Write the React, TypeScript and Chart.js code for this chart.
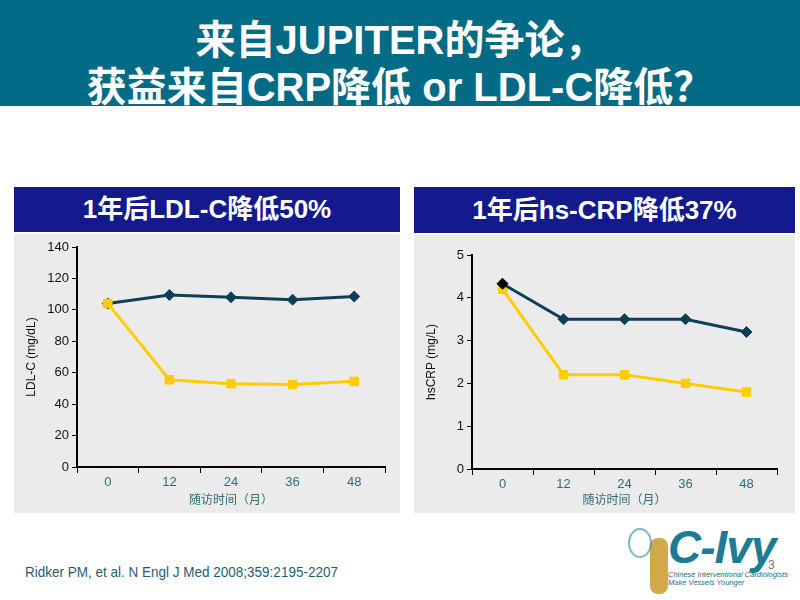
import React, { useEffect, useRef } from "react";
import { Chart, registerables } from "chart.js";

Chart.register(...registerables);

const months = ["0", "12", "24", "36", "48"];
const ldlPlacebo = [104, 109.5, 108, 106.5, 108.5];
const ldlRosuva = [104, 55.5, 53, 52.5, 54.5];
const crpPlacebo = [4.33, 3.5, 3.5, 3.5, 3.2];
const crpRosuva = [4.2, 2.2, 2.2, 2.0, 1.8];
const ldlRange = [0, 140, 20];
const crpRange = [0, 5, 1];

const NAVY = "#0f3f58";
const YELLOW = "#ffcc00";
const TEAL_TEXT = "#2f6b7c";
const SANS = '"Liberation Sans", Arial, "Noto Sans CJK SC", sans-serif';

type PanelProps = {
  w: number;
  h: number;
  yWidth: number;
  xHeight: number;
  pad: { top: number; right: number };
  range: number[];
  yTitle: string;
  datasets: any[];
};

function LineChart(p: PanelProps) {
  const ref = useRef<HTMLCanvasElement | null>(null);
  useEffect(() => {
    if (!ref.current) return;
    const chart = new Chart(ref.current, {
      type: "line",
      data: { labels: months, datasets: p.datasets },
      options: {
        animation: false,
        responsive: false,
        devicePixelRatio: 1,
        layout: { padding: { top: p.pad.top, right: p.pad.right, left: 0, bottom: 0 } },
        plugins: { legend: { display: false }, tooltip: { enabled: false } },
        scales: {
          x: {
            type: "category",
            offset: true,
            afterFit: (s: any) => {
              s.height = p.xHeight;
            },
            grid: {
              offset: true,
              drawOnChartArea: false,
              drawTicks: true,
              tickLength: 6,
              color: "#000",
              lineWidth: 1,
            },
            border: { display: true, color: "#000", width: 2 },
            ticks: {
              color: TEAL_TEXT,
              font: { family: SANS, size: 13 },
              padding: 2,
              maxRotation: 0,
            },
            title: {
              display: true,
              text: "随访时间（月）",
              color: TEAL_TEXT,
              font: { family: '"Noto Sans CJK SC", sans-serif', size: 12 },
              padding: { top: 0, bottom: 6 },
            },
          },
          y: {
            min: p.range[0],
            max: p.range[1],
            afterFit: (s: any) => {
              s.width = p.yWidth;
            },
            grid: {
              drawOnChartArea: false,
              drawTicks: true,
              tickLength: 5,
              color: "#000",
              lineWidth: 1,
            },
            border: { display: true, color: "#000", width: 2 },
            ticks: {
              stepSize: p.range[2],
              color: "#111",
              font: { family: SANS, size: 13 },
              padding: 3,
            },
            title: {
              display: true,
              text: p.yTitle,
              color: "#111",
              font: { family: SANS, size: 12 },
              padding: { top: 10, bottom: 0 },
            },
          },
        },
      },
    });
    return () => chart.destroy();
  }, []);
  return <canvas ref={ref} width={p.w} height={p.h} style={{ width: p.w, height: p.h, display: "block" }} />;
}

function navySet(data: number[], firstColor: string) {
  return {
    data,
    borderColor: NAVY,
    borderWidth: 3,
    pointStyle: "rectRot",
    pointRadius: 5.5,
    pointBackgroundColor: data.map((_, i) => (i === 0 ? firstColor : NAVY)),
    pointBorderColor: data.map((_, i) => (i === 0 ? firstColor : NAVY)),
    pointBorderWidth: 1,
    tension: 0,
  };
}

function yellowSet(data: number[]) {
  return {
    data,
    borderColor: YELLOW,
    borderWidth: 3,
    pointStyle: "rect",
    pointRadius: 6,
    pointBackgroundColor: YELLOW,
    pointBorderColor: YELLOW,
    pointBorderWidth: 1,
    tension: 0,
  };
}

const abs = (x: number, y: number, w: number, h: number): React.CSSProperties => ({
  position: "absolute",
  left: x,
  top: y,
  width: w,
  height: h,
});

export default function App() {
  return (
    <div style={{ position: "absolute", left: 0, top: 0, width: 800, height: 600, background: "#fff", overflow: "hidden", fontFamily: SANS }}>
      {/* banner */}
      <div style={{ ...abs(0, 0, 800, 106), background: "#046b86" }} />
      <div
        style={{
          ...abs(0, 18, 800, 90),
          color: "#fff",
          fontWeight: "bold",
          fontSize: 40,
          lineHeight: "44px",
          textAlign: "center",
          fontFamily: SANS,
          whiteSpace: "nowrap",
        }}
      >
        <div>来自JUPITER的争论，</div>
        <div>
          获益来自CRP降低 or LDL-C降低<span style={{ fontFamily: '"Noto Sans CJK SC", sans-serif' }}>？</span>
        </div>
      </div>

      {/* left panel */}
      <div
        style={{
          ...abs(14, 187, 386, 45),
          background: "#141a8c",
          color: "#fff",
          fontWeight: "bold",
          fontSize: 26,
          lineHeight: "45px",
          textAlign: "center",
        }}
      >
        1年后LDL-C降低50%
      </div>
      <div style={{ ...abs(14, 234, 386, 279), background: "#ebebeb" }}>
        <LineChart
          w={386}
          h={279}
          yWidth={63}
          xHeight={46}
          pad={{ top: 13, right: 15 }}
          range={ldlRange}
          yTitle="LDL-C (mg/dL)"
          datasets={[yellowSet(ldlRosuva), navySet(ldlPlacebo, NAVY)]}
        />
      </div>

      {/* right panel */}
      <div
        style={{
          ...abs(414, 187, 381, 46),
          background: "#141a8c",
          color: "#fff",
          fontWeight: "bold",
          fontSize: 26,
          lineHeight: "46px",
          textAlign: "center",
        }}
      >
        1年后hs-CRP降低37%
      </div>
      <div style={{ ...abs(414, 235, 381, 278), background: "#ebebeb" }}>
        <LineChart
          w={381}
          h={278}
          yWidth={58}
          xHeight={44}
          pad={{ top: 20, right: 18 }}
          range={crpRange}
          yTitle="hsCRP (mg/L)"
          datasets={[navySet(crpPlacebo, "#000"), yellowSet(crpRosuva)]}
        />
      </div>

      {/* footer citation */}
      <div
        style={{
          ...abs(25, 562, 400, 20),
          color: "#1e5e72",
          fontSize: 15,
          lineHeight: "20px",
          fontFamily: '"Liberation Sans", Arial, sans-serif',
          whiteSpace: "nowrap",
          transform: "scaleX(0.9)",
          transformOrigin: "0 0",
        }}
      >
        Ridker PM, et al. N Engl J Med 2008;359:2195-2207
      </div>

      {/* logo */}
      <div
        style={{
          ...abs(668, 522, 130, 50),
          color: "#1b7c93",
          fontWeight: "bold",
          fontStyle: "italic",
          fontSize: 46,
          lineHeight: "50px",
          whiteSpace: "nowrap",
          letterSpacing: -1,
        }}
      >
        C-Ivy
      </div>
      <div style={{ ...abs(650, 538, 18, 56), background: "#c89b2a", borderRadius: 8, opacity: 0.85 }} />
      <div style={{ ...abs(628, 528, 20, 26), border: "2px solid #2a8aa0", borderRadius: "50%", opacity: 0.6 }} />
      <div style={{ ...abs(768, 558, 12, 14), color: "#777", fontSize: 12, lineHeight: "14px" }}>3</div>
      <div
        style={{
          ...abs(668, 571, 132, 20),
          fontStyle: "italic",
          fontSize: 7.5,
          lineHeight: "8px",
          color: "#1b6f85",
          whiteSpace: "nowrap",
        }}
      >
        <div>
          <span style={{ color: "#c0392b" }}>C</span>hinese <span style={{ color: "#c0392b" }}>I</span>nterventional{" "}
          <span style={{ color: "#c0392b" }}>C</span>ardiologists
        </div>
        <div>
          Make <span style={{ color: "#c0392b" }}>V</span>essels <span style={{ color: "#c0392b" }}>Y</span>ounger
        </div>
      </div>
    </div>
  );
}
